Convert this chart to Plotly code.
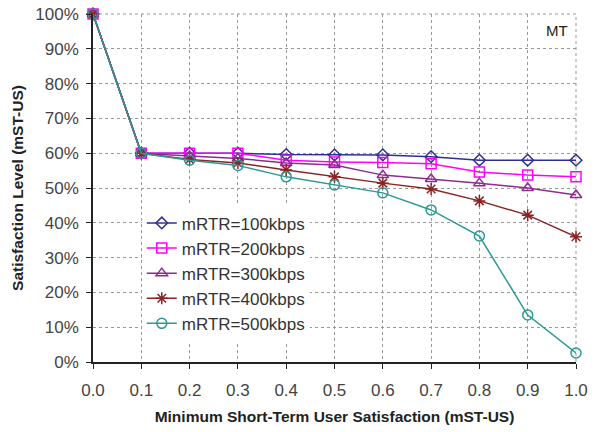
import plotly.graph_objects as go

x_vals = [0.0, 0.1, 0.2, 0.3, 0.4, 0.5, 0.6, 0.7, 0.8, 0.9, 1.0]

mrtr_100 = [100, 60, 60, 60, 59.6, 59.5, 59.5, 59.0, 58.0, 58.0, 58.0]
mrtr_200 = [100, 60, 60, 60, 58.0, 57.5, 57.3, 57.0, 54.6, 53.7, 53.2]
mrtr_300 = [100, 60, 59.2, 58.5, 57.2, 56.6, 53.7, 52.6, 51.4, 50.0, 48.0]
mrtr_400 = [100, 60, 58.2, 57.2, 55.2, 53.2, 51.4, 49.7, 46.3, 42.2, 36.0]
mrtr_500 = [100, 60, 58.0, 56.5, 53.2, 50.9, 48.6, 43.7, 36.2, 13.5, 2.6]

series_names = ["mRTR=100kbps", "mRTR=200kbps", "mRTR=300kbps",
                "mRTR=400kbps", "mRTR=500kbps"]
series_vals = [mrtr_100, mrtr_200, mrtr_300, mrtr_400, mrtr_500]
colors = ["#2e2e96", "#ff00ff", "#8e2b8e", "#8b2323", "#2a9a94"]
symbols = ["diamond-open", "square-open", "triangle-up-open",
           "asterisk-open", "circle-open"]
sizes = [9, 10, 10, 10, 10]

FONT = "Liberation Sans, Arial, sans-serif"

fig = go.Figure()
for i, (name, vals) in enumerate(zip(series_names, series_vals)):
    fig.add_trace(go.Scatter(
        x=x_vals, y=vals, name=name, mode="lines+markers",
        legendgroup=f"g{i}",
        line=dict(color=colors[i], width=1.5),
        marker=dict(symbol=symbols[i], size=sizes[i], color=colors[i],
                    line=dict(color=colors[i], width=1.5)),
        cliponaxis=False,
    ))

fig.add_annotation(x=0.96, y=0.954, xref="paper", yref="paper",
                   xanchor="center", yanchor="middle",
                   text="MT", showarrow=False,
                   font=dict(family=FONT, size=15, color="#222"))

fig.update_layout(
    width=599, height=432,
    margin=dict(l=93, r=23, t=14, b=70, autoexpand=False),
    paper_bgcolor="white", plot_bgcolor="white",
    font=dict(family=FONT, color="#333"),
    showlegend=True,
    legend=dict(x=0.101, y=0.45, xanchor="left", yanchor="top",
                bgcolor="white", borderwidth=0,
                font=dict(family=FONT, size=17, color="#333"),
                tracegroupgap=0, itemwidth=30),
    xaxis=dict(range=[0, 1], tickvals=x_vals,
               ticktext=[f"{v:.1f}" for v in x_vals],
               automargin=False,
               showgrid=True, gridcolor="#999", griddash="dot", gridwidth=1,
               showline=True, linecolor="#222", linewidth=1.5,
               ticks="outside", ticklen=5, tickcolor="#222",
               ticklabelstandoff=7,
               tickfont=dict(size=17, color="#444"),
               zeroline=False,
               title=dict(text="<b>Minimum Short-Term User Satisfaction (mST-US)</b>",
                          font=dict(size=15.5, color="#222"), standoff=12)),
    yaxis=dict(range=[0, 100], tickvals=list(range(0, 101, 10)),
               ticktext=[f"{v}%" for v in range(0, 101, 10)],
               automargin=False,
               showgrid=True, gridcolor="#999", griddash="dot", gridwidth=1,
               showline=True, linecolor="#222", linewidth=1.5,
               ticks="outside", ticklen=5, tickcolor="#222",
               ticklabelstandoff=4,
               tickfont=dict(size=17, color="#444"),
               zeroline=False,
               title=dict(text="<b>Satisfaction Level (mST-US)</b>",
                          font=dict(size=15.5, color="#222"), standoff=8)),
)

# white panel behind the legend, hiding the gridlines there
fig.add_shape(type="rect", xref="paper", yref="paper",
              x0=0.052, x1=0.511, y0=0.072, y1=0.4425,
              fillcolor="white", line=dict(width=0), layer="between")

# dotted border on the top and right edges like the gridlines
fig.add_shape(type="line", xref="paper", yref="paper", x0=0, x1=1, y0=1, y1=1,
              line=dict(color="#999", width=1, dash="dot"), layer="below")
fig.add_shape(type="line", xref="paper", yref="paper", x0=1, x1=1, y0=0, y1=1,
              line=dict(color="#999", width=1, dash="dot"), layer="below")

fig.write_html("out.html")
